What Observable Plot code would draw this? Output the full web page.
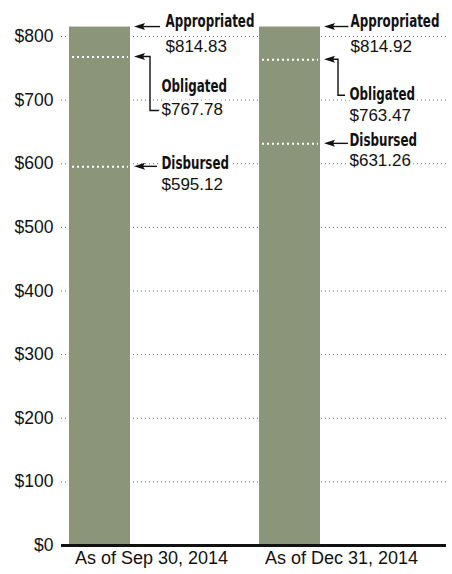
<!DOCTYPE html>
<html><head><meta charset="utf-8">
<script src="https://cdn.jsdelivr.net/npm/d3@7"></script>
<script src="https://cdn.jsdelivr.net/npm/@observablehq/plot@0.6"></script>
<style>
html,body{margin:0;padding:0;background:#fff;}
#chart svg{display:block;}
</style>
</head><body><div id="chart"></div>
<script>
// ---- data ----
const categories = ["As of Sep 30, 2014", "As of Dec 31, 2014"];
const measures = ["Appropriated", "Obligated", "Disbursed"];
const appropriated = [814.83, 814.92];
const obligated = [767.78, 763.47];
const disbursed = [595.12, 631.26];
const yTicks = [0, 100, 200, 300, 400, 500, 600, 700, 800];

// ---- layout (pixel offsets measured from the bar's right edge / value level) ----
const layout = {
  "0|Appropriated": {text: 35, name: -5.5, value: 19.5, tail: 30},
  "0|Obligated":    {text: 31, name: 29,   value: 53,   elbow: 20, bottom: 54, end: 30},
  "0|Disbursed":    {text: 31, name: -3.7, value: 18,   tail: 27},
  "1|Appropriated": {text: 30, name: -5.5, value: 19.5, tail: 29},
  "1|Obligated":    {text: 29, name: 34.7, value: 56,   elbow: 18, bottom: 36, end: 25},
  "1|Disbursed":    {text: 29, name: -4,   value: 17,   tail: 28}
};
const barFill = "#8a957a";
const insetL = 13, insetR = 116, band = 190;
const barRightFromCenter = band / 2 - insetR; // negative => left of band center
const condensedTargetWidth = 89; // width of "Appropriated" in the condensed bold face

const series = {Appropriated: appropriated, Obligated: obligated, Disbursed: disbursed};
const bars = categories.map((cat, i) => ({cat, value: appropriated[i]}));
const annots = categories.flatMap((cat, i) => measures.map(m => ({
  cat, measure: m, value: series[m][i], key: i + "|" + m,
  label: "$" + series[m][i].toFixed(2)
})));
const inner = annots.filter(a => a.measure !== "Appropriated");

const regFont = "'Liberation Sans', Arial, sans-serif";
const boldFont = "'DejaVu Sans Condensed', 'Liberation Sans Narrow', sans-serif";

function arrowsMark(index, scales) {
  const g = d3.create("svg:g").attr("fill", "none").attr("stroke", "#111");
  const bw = scales.x.bandwidth ? scales.x.bandwidth() : band;
  for (const a of annots) {
    const L = layout[a.key];
    const right = scales.x(a.cat) + bw - insetR;
    const y = scales.y(a.value);
    const tip = right + 4;
    let d;
    if (L.elbow !== undefined) {
      d = `M${tip + 8},${y}H${right + L.elbow}V${y + L.bottom}H${right + L.end}`;
    } else {
      d = `M${tip + 8},${y}H${right + L.tail}`;
    }
    g.append("path").attr("d", d).attr("stroke-width", 1.4);
    g.append("path")
      .attr("d", `M${tip},${y}L${tip + 11},${y - 3.5}L${tip + 9},${y}L${tip + 11},${y + 3.5}Z`)
      .attr("fill", "#111").attr("stroke", "none");
  }
  return g.node();
}

const textMarks = annots.flatMap(a => {
  const L = layout[a.key];
  const dx = barRightFromCenter + L.text;
  return [
    Plot.text([a], {x: "cat", y: "value", text: "measure", dx, dy: L.name,
      textAnchor: "start", lineAnchor: "middle", fontWeight: "bold",
      fontFamily: boldFont, fontSize: 18, fill: "#111",
      stroke: "white", strokeWidth: 6}),
    Plot.text([a], {x: "cat", y: "value", text: "label", dx, dy: L.value,
      textAnchor: "start", lineAnchor: "middle",
      fontFamily: regFont, fontSize: 17, fill: "#111",
      stroke: "white", strokeWidth: 6})
  ];
});

const chart = Plot.plot({
  width: 452,
  height: 574,
  marginLeft: 61,
  marginRight: 6,
  marginTop: 36,
  marginBottom: 29,
  style: {fontFamily: regFont, fontSize: "17.5px", color: "#111", background: "white"},
  x: {type: "band", domain: categories, range: [56, 56 + 2 * band], padding: 0},
  y: {domain: [0, 800]},
  marks: [
    Plot.ruleY(yTicks.filter(d => d > 0), {stroke: "#666", strokeWidth: 1, strokeDasharray: "1,3"}),
    Plot.barY(bars, {x: "cat", y: "value", fill: barFill, insetLeft: insetL, insetRight: insetR}),
    Plot.tickY(inner, {x: "cat", y: "value", stroke: "white", strokeWidth: 2,
      strokeDasharray: "2,3", insetLeft: insetL + 3, insetRight: insetR + 2}),
    Plot.ruleY([0], {stroke: "#111", strokeWidth: 3}),
    Plot.axisY({ticks: yTicks, tickSize: 0, tickPadding: 8, tickFormat: d => "$" + d,
      fontSize: 17.5, label: null}),
    Plot.axisX({tickSize: 0, tickPadding: 6, fontSize: 18, label: null}),
    arrowsMark,
    ...textMarks
  ]
});
document.getElementById("chart").appendChild(chart);

// Condense the bold labels horizontally (no condensed bold face is installed)
const boldTexts = d3.select(chart).selectAll("g[font-weight=bold] text");
let k = 0.75;
boldTexts.each(function() {
  if (this.textContent === "Appropriated") {
    const w = this.getBBox().width;
    if (w > 0) k = condensedTargetWidth / w;
  }
});
boldTexts.each(function() {
  const b = this.getBBox();
  const x0 = b.x;
  const t = this.getAttribute("transform") || "";
  this.setAttribute("transform",
    `${t} translate(${x0},0) scale(${k.toFixed(4)},1) translate(${-x0},0)`.trim());
});
</script>
</body></html>
